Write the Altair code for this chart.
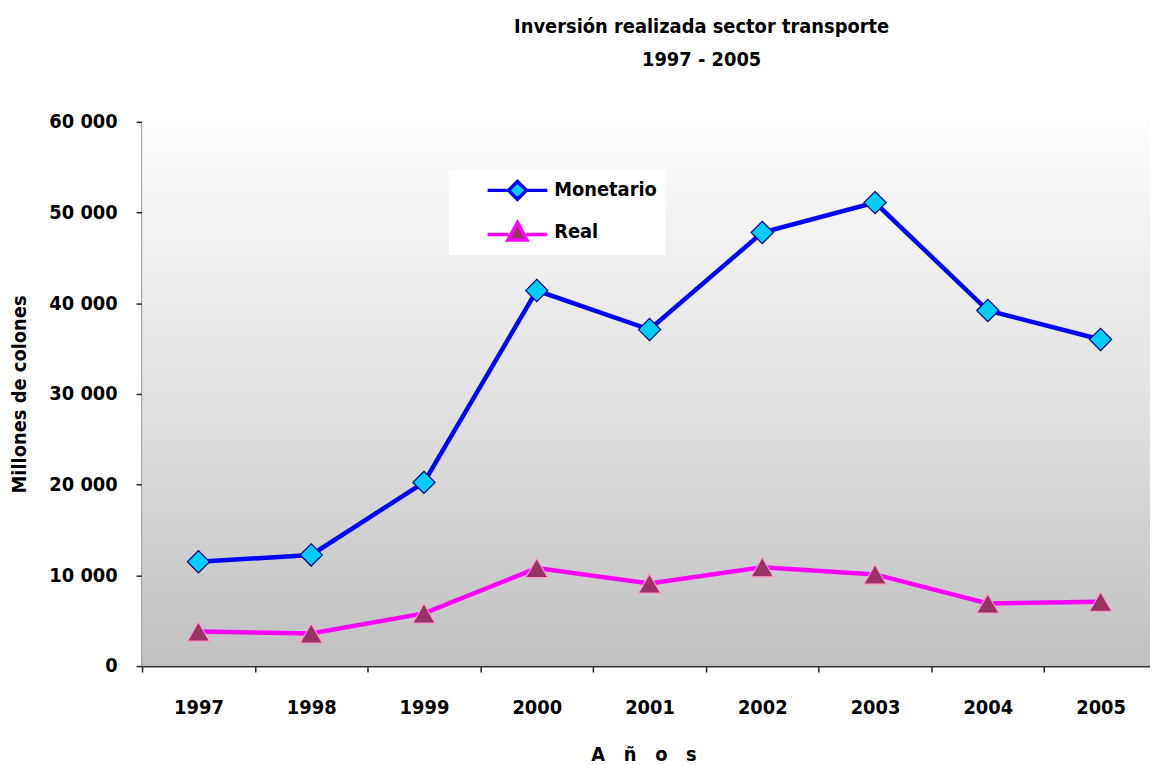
import altair as alt
import pandas as pd

# ---------------- data ----------------
years = ["1997", "1998", "1999", "2000", "2001", "2002", "2003", "2004", "2005"]
monetario = [11500, 12250, 20250, 41400, 37100, 47800, 51100, 39200, 36000]
real = [3800, 3600, 5800, 10800, 9100, 10900, 10100, 6900, 7100]
series_names = ["Monetario", "Real"]
line_colors = ["#0000ff", "#ff00ff"]
marker_fills = ["#00ccff", "#993366"]
marker_strokes = ["#000080", "#ff99cc"]
y_ticks = [0, 10000, 20000, 30000, 40000, 50000, 60000]

df = pd.DataFrame({
    "year": years * 2,
    "value": monetario + real,
    "series": [series_names[0]] * len(years) + [series_names[1]] * len(years),
})

# ---------------- style ----------------
FONT = "DejaVu Sans Condensed, DejaVu Sans, sans-serif"
W, H = 1015, 548
NB = "\u00a0"

# legend symbols: line segment with marker on it
legend_paths = [
    "M-3,0 L-0.9,0 M0.9,0 L3,0 M0,-0.9 L0.9,0 L0,0.9 L-0.9,0 Z",
    "M-3,0.25 L-0.9,0.25 M0.9,0.25 L3,0.25 M0,-0.95 L0.95,0.8 L-0.95,0.8 Z",
]

xscale = alt.Scale(type="band", domain=years, range=[0, 1022], paddingInner=0, paddingOuter=0)
yscale = alt.Scale(domain=[0, 60000], nice=False)

x_axis = alt.Axis(
    title=(NB * 3).join(["A", "ñ", "o", "s"]), titleFont=FONT, titleFontSize=20, titleFontWeight="bold",
    titleX=505, titleY=89, titleAlign="center", titleBaseline="middle", titleColor="black",
    labelFont=FONT, labelFontSize=20, labelFontWeight="bold", labelColor="black",
    labelAngle=0, labelPadding=26, tickBand="extent", tickSize=6, tickWidth=1.5,
    tickColor="#222", domainColor="#333", domainWidth=2, grid=False,
)
y_axis = alt.Axis(
    title="Millones de colones", titleFont=FONT, titleFontSize=20, titleFontWeight="bold",
    titleColor="black", titleAngle=-90, titleX=-123, titleY=274, titleAlign="center",
    titleBaseline="middle",
    values=y_ticks, labelExpr="replace(format(datum.value, ','), ',', ' ')",
    labelFont=FONT, labelFontSize=20, labelFontWeight="bold", labelColor="black",
    labelPadding=19, tickSize=6, tickWidth=1.5, tickColor="#222",
    domainColor="#333", domainWidth=2, grid=False,
)

legend = alt.Legend(
    title=None, orient="none", legendX=309, legendY=49, fillColor="white", padding=8,
    symbolOffset=49, labelOffset=25, rowPadding=9, symbolSize=400,
    symbolStrokeWidth=3.5, symbolOpacity=1, labelFont=FONT, labelFontSize=20,
    labelFontWeight="bold", labelColor="black",
)

x_enc = alt.X("year:N", scale=xscale, sort=years, axis=x_axis)
y_enc = alt.Y("value:Q", scale=yscale, axis=y_axis)

base = alt.Chart(df)

bg = alt.Chart(pd.DataFrame({"a": [0]})).mark_rect(
    color=alt.Gradient(
        gradient="linear", x1=0, x2=0, y1=0, y2=1,
        stops=[alt.GradientStop(color="#fdfdfd", offset=0),
               alt.GradientStop(color="#e2e2e2", offset=0.5),
               alt.GradientStop(color="#c0c0c0", offset=1)],
    )
).encode(x=alt.value(0), x2=alt.value("width"), y=alt.value(0), y2=alt.value("height"))

stroke_scale = alt.Scale(domain=series_names, range=line_colors)

lines = base.mark_line(strokeWidth=4.5).encode(
    x=x_enc, y=y_enc,
    stroke=alt.Stroke("series:N", scale=stroke_scale, legend=legend),
    detail="series:N",
)

is_mon = alt.datum.series == series_names[0]
markers = base.mark_point(filled=True, size=500, strokeWidth=1.2, opacity=1).encode(
    x=x_enc, y=y_enc,
    shape=alt.condition(is_mon, alt.value("diamond"), alt.value("triangle-up")),
    fill=alt.condition(is_mon, alt.value(marker_fills[0]), alt.value(marker_fills[1])),
    stroke=alt.condition(is_mon, alt.value(marker_strokes[0]), alt.value(marker_strokes[1])),
)

# invisible layer that only feeds the legend (line + marker symbols)
legend_layer = base.transform_filter("datum.value < 0").mark_point(
    filled=True, strokeWidth=3.5, opacity=1, fillOpacity=1
).encode(
    x=x_enc, y=y_enc,
    fill=alt.Fill("series:N", scale=alt.Scale(domain=series_names, range=marker_fills), legend=legend),
    shape=alt.Shape("series:N", scale=alt.Scale(domain=series_names, range=legend_paths), legend=legend),
)

chart = alt.layer(bg, lines, markers, legend_layer).properties(
    width=W, height=H,
    autosize=alt.AutoSizeParams(type="none"),
    padding={"left": 135, "top": 112, "right": 0, "bottom": 97},
    title=alt.TitleParams(
        text=["Inversión realizada sector transporte", "1997 - 2005"],
        font=FONT, fontSize=20, fontWeight="bold", color="black",
        anchor="middle", dx=56, offset=42, lineHeight=33,
    ),
).configure_view(stroke=None).configure(background="white")

chart.save("out.html", embed_options={"renderer": "svg", "actions": False})
